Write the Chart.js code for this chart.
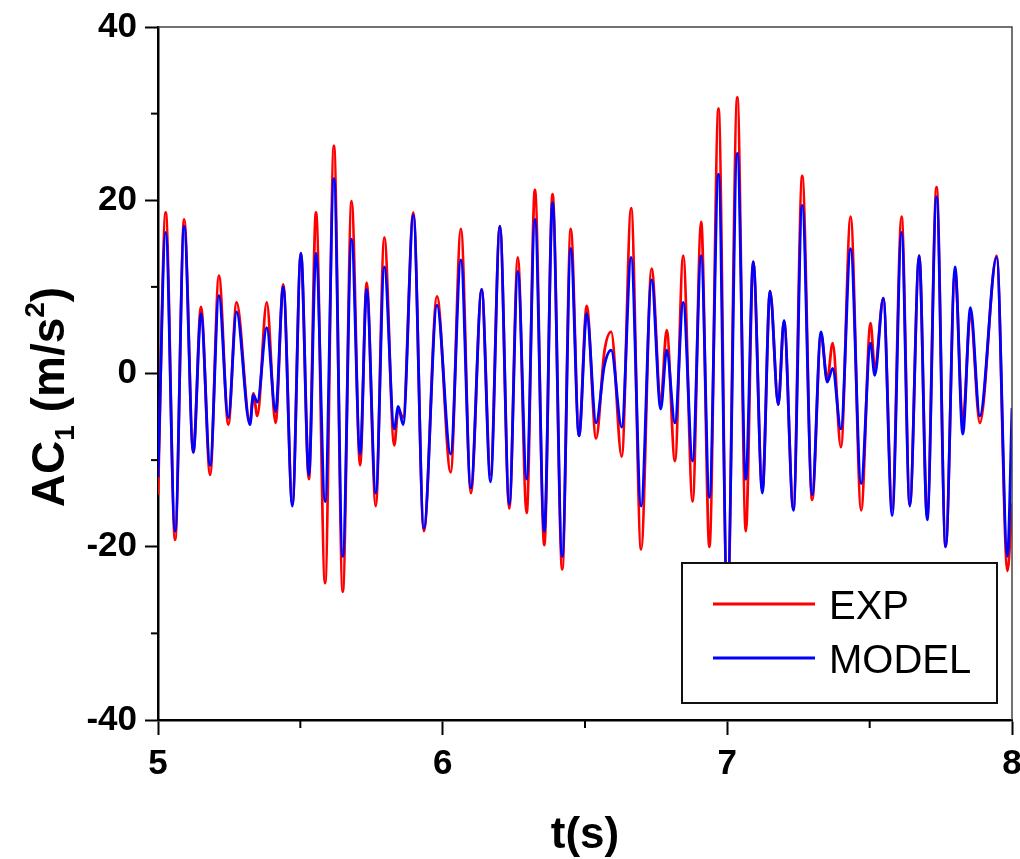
<!DOCTYPE html>
<html>
<head>
<meta charset="utf-8">
<script src="https://cdn.jsdelivr.net/npm/chart.js@4"></script>
<style>
  html, body { margin: 0; padding: 0; background: #fff; }
  #wrap { width: 1020px; height: 859px; }
</style>
</head>
<body>
<div id="wrap"><canvas id="acChart" width="1020" height="859"></canvas></div>
<script>
// time stamps (s) of the turning points of the acceleration record
const times = [
  5.000, 5.027, 5.060, 5.092, 5.124, 5.151, 5.183, 5.214, 5.247, 5.276,
  5.323, 5.335, 5.349, 5.382, 5.413, 5.440, 5.472, 5.502, 5.530, 5.555,
  5.587, 5.618, 5.649, 5.680, 5.710, 5.733, 5.765, 5.795, 5.830, 5.844,
  5.861, 5.897, 5.934, 5.980, 6.028, 6.064, 6.099, 6.137, 6.168, 6.201,
  6.234, 6.264, 6.295, 6.324, 6.357, 6.386, 6.420, 6.450, 6.479, 6.506,
  6.539, 6.568, 6.592, 6.629, 6.662, 6.697, 6.734, 6.766, 6.787, 6.816,
  6.845, 6.878, 6.908, 6.937, 6.969, 7.000, 7.035, 7.065, 7.091, 7.123,
  7.150, 7.179, 7.199, 7.232, 7.263, 7.298, 7.329, 7.351, 7.370, 7.399,
  7.433, 7.470, 7.503, 7.518, 7.548, 7.579, 7.612, 7.641, 7.674, 7.702,
  7.735, 7.767, 7.800, 7.827, 7.854, 7.887, 7.946, 7.984, 8.000
];

// measured acceleration AC1 (m/s^2)
const expValues = [
  -14.0, 18.6, -19.2, 17.8, -9.1, 7.7, -11.7, 11.3, -5.9, 8.2,
  -5.7, -2.3, -4.9, 8.2, -5.7, 10.3, -15.1, 13.9, -12.2, 18.6,
  -24.2, 26.3, -25.2, 19.9, -10.6, 10.5, -15.3, 15.7, -8.3, -4.1,
  -5.1, 18.6, -18.2, 8.9, -11.4, 16.7, -13.8, 9.7, -11.7, 17.0,
  -15.6, 13.4, -16.1, 21.2, -19.8, 20.7, -22.6, 16.7, -7.2, 7.8,
  -7.5, 2.5, 4.8, -9.6, 19.1, -20.3, 12.1, -3.3, 5.0, -10.1,
  13.6, -14.8, 17.5, -20.0, 30.6, -28.0, 31.9, -18.2, 12.9, -13.5,
  9.5, -3.6, 6.1, -15.6, 22.8, -14.6, 4.5, -0.7, 3.5, -8.5,
  18.1, -15.8, 5.8, 0.6, 8.7, -15.6, 18.1, -15.1, 13.6, -16.6,
  21.5, -20.0, 11.8, -5.7, 6.9, -5.7, 13.6, -22.8, -15.0
];

// simulated acceleration AC1 (m/s^2)
const modelValues = [
  -12.0, 16.3, -18.2, 17.0, -9.1, 6.9, -10.6, 9.0, -5.1, 7.1,
  -5.9, -2.5, -3.3, 5.3, -4.4, 10.0, -15.3, 13.9, -11.7, 13.9,
  -14.8, 22.5, -21.1, 15.5, -9.3, 9.7, -13.8, 12.3, -6.4, -3.8,
  -5.9, 18.3, -17.9, 7.9, -9.3, 13.1, -13.2, 9.7, -12.5, 17.0,
  -15.1, 11.8, -12.2, 17.8, -18.2, 19.7, -21.1, 14.4, -7.2, 6.9,
  -5.7, 0.9, 2.7, -6.2, 13.4, -15.3, 10.8, -4.1, 2.7, -5.7,
  8.2, -10.1, 13.6, -14.3, 23.0, -26.0, 25.4, -12.2, 12.9, -13.8,
  9.5, -3.6, 6.1, -15.8, 19.4, -14.0, 4.8, -1.0, 0.6, -6.4,
  14.4, -12.7, 3.5, -0.2, 8.7, -16.4, 16.3, -15.3, 13.6, -16.9,
  20.4, -20.0, 12.3, -7.0, 7.6, -4.9, 13.4, -21.1, -4.0
];

const xMajorTicks = [5, 6, 7, 8];
const xMinorTicks = [5.5, 6.5, 7.5];
const yMajorTicks = [-40, -20, 0, 20, 40];
const yMinorTicks = [-30, -10, 10, 30];
const seriesNames = ['EXP', 'MODEL'];

const tickFont = { family: "'Liberation Sans', Arial, sans-serif", size: 35, weight: 'bold' };

// frame, minor ticks, legend and axis titles drawn over the curves
const decorations = {
  id: 'decorations',
  afterDatasetsDraw(chart) {
    const { ctx, chartArea: a, scales: { x, y } } = chart;
    const line = (x1, y1, x2, y2) => {
      ctx.beginPath(); ctx.moveTo(x1, y1); ctx.lineTo(x2, y2); ctx.stroke();
    };
    ctx.save();

    ctx.strokeStyle = '#444';
    ctx.lineWidth = 1.5;
    ctx.beginPath();
    ctx.moveTo(a.left, a.top);
    ctx.lineTo(a.right, a.top);
    ctx.lineTo(a.right, a.bottom);
    ctx.stroke();

    ctx.strokeStyle = '#000';
    ctx.lineWidth = 2;
    xMinorTicks.forEach(v => {
      const px = x.getPixelForValue(v);
      line(px, a.bottom, px, a.bottom + 8);
    });
    yMinorTicks.forEach(v => {
      const py = y.getPixelForValue(v);
      line(a.left - 7, py, a.left, py);
    });

    // legend box
    const lx = a.right - 330, ly = a.bottom - 157, lw = 315, lh = 140;
    ctx.fillStyle = '#fff';
    ctx.fillRect(lx, ly, lw, lh);
    ctx.strokeStyle = '#111';
    ctx.lineWidth = 2;
    ctx.strokeRect(lx, ly, lw, lh);
    const colors = chart.data.datasets.map(d => d.borderColor);
    const rows = [41, 95];
    ctx.font = "40px 'Liberation Sans', Arial, sans-serif";
    ctx.textBaseline = 'alphabetic';
    ctx.textAlign = 'left';
    seriesNames.forEach((name, i) => {
      ctx.strokeStyle = colors[i];
      ctx.lineWidth = 2.8;
      line(lx + 31, ly + rows[i], lx + 133, ly + rows[i]);
      ctx.fillStyle = '#000';
      ctx.fillText(name, lx + 147, ly + rows[i] + 15);
    });

    // x title
    ctx.fillStyle = '#000';
    ctx.textAlign = 'center';
    ctx.font = "bold 44px 'Liberation Sans', Arial, sans-serif";
    ctx.fillText('t(s)', (a.left + a.right) / 2, 848);

    // y title with subscript and superscript
    const big = "bold 46px 'Liberation Sans', Arial, sans-serif";
    const small = "bold 28px 'Liberation Sans', Arial, sans-serif";
    const parts = [
      { t: 'AC', f: big, dy: 0 },
      { t: '1', f: small, dy: 10 },
      { t: ' (m/s', f: big, dy: 0 },
      { t: '2', f: small, dy: -20 },
      { t: ')', f: big, dy: 0 }
    ];
    let total = 0;
    parts.forEach(p => { ctx.font = p.f; p.w = ctx.measureText(p.t).width; total += p.w; });
    ctx.translate(64, 397);
    ctx.rotate(-Math.PI / 2);
    ctx.textAlign = 'left';
    let u = -total / 2;
    parts.forEach(p => {
      ctx.font = p.f;
      ctx.fillText(p.t, u, p.dy);
      u += p.w;
    });
    ctx.restore();
  }
};

new Chart(document.getElementById('acChart'), {
  type: 'line',
  data: {
    datasets: [
      {
        label: seriesNames[0],
        data: times.map((t, i) => ({ x: t, y: expValues[i] })),
        borderColor: '#ff0000',
        borderWidth: 2.8,
        pointRadius: 0,
        cubicInterpolationMode: 'monotone',
        order: 1
      },
      {
        label: seriesNames[1],
        data: times.map((t, i) => ({ x: t, y: modelValues[i] })),
        borderColor: '#0000ff',
        borderWidth: 2.8,
        pointRadius: 0,
        cubicInterpolationMode: 'monotone',
        order: 0
      }
    ]
  },
  options: {
    responsive: false,
    animation: false,
    events: [],
    layout: { padding: { top: 27, right: 8, left: 0, bottom: 0 } },
    plugins: { legend: { display: false }, tooltip: { enabled: false } },
    scales: {
      x: {
        type: 'linear',
        min: 5,
        max: 8,
        afterBuildTicks: s => { s.ticks = xMajorTicks.map(v => ({ value: v })); },
        afterFit: s => { s.height = 139; s.paddingLeft = 0; s.paddingRight = 0; },
        grid: { display: true, drawOnChartArea: false, drawTicks: true, tickLength: 15, tickWidth: 2, tickColor: '#000' },
        border: { display: true, color: '#000', width: 2.5 },
        ticks: { font: tickFont, color: '#000', padding: 8, maxRotation: 0 }
      },
      y: {
        min: -40,
        max: 40,
        afterBuildTicks: s => { s.ticks = yMajorTicks.map(v => ({ value: v })); },
        afterFit: s => { s.width = 158; s.paddingTop = 0; s.paddingBottom = 0; },
        grid: { display: true, drawOnChartArea: false, drawTicks: true, tickLength: 13, tickWidth: 2, tickColor: '#000' },
        border: { display: true, color: '#000', width: 2.5 },
        ticks: { font: tickFont, color: '#000', padding: 8 }
      }
    }
  },
  plugins: [decorations]
});
</script>
</body>
</html>
